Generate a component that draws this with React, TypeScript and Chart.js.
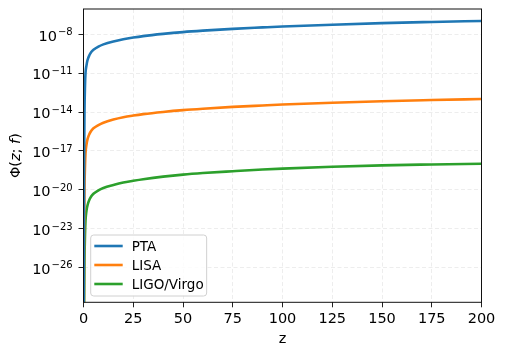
import React, { useEffect, useRef } from "react";
import { Chart, registerables } from "chart.js";

Chart.register(...registerables);

// Redshift samples
const zValues = [0.02, 0.1, 0.3, 0.5, 0.75, 1, 1.5, 2, 3, 4, 5, 7.5, 10, 15, 20, 25, 30, 40, 50, 60, 75, 90, 100, 125, 150, 175, 200];

// log10 of Φ(z; f)
const ptaLog10 = [-45, -30, -18, -14, -12, -11, -10.4, -10.0, -9.6, -9.35, -9.2, -8.95, -8.78, -8.55, -8.38, -8.25, -8.14, -7.97, -7.83, -7.72, -7.58, -7.47, -7.40, -7.26, -7.14, -7.05, -6.97];
const lisaLog10 = [-50, -36, -24, -20, -18.2, -17.2, -16.5, -16.1, -15.68, -15.42, -15.25, -15.0, -14.82, -14.58, -14.4, -14.27, -14.16, -13.99, -13.85, -13.74, -13.6, -13.49, -13.42, -13.28, -13.16, -13.07, -12.99];
const ligoLog10 = [-55, -40, -29, -25.5, -23.5, -22.4, -21.6, -21.2, -20.75, -20.48, -20.3, -20.03, -19.85, -19.62, -19.43, -19.3, -19.18, -18.98, -18.82, -18.7, -18.56, -18.43, -18.36, -18.22, -18.11, -18.04, -17.98];

const seriesLabels = ["PTA", "LISA", "LIGO/Virgo"];
const seriesColors = ["#1f77b4", "#ff7f0e", "#2ca02c"];

const xTicks = [0, 25, 50, 75, 100, 125, 150, 175, 200];
const yTickExponents = [-26, -23, -20, -17, -14, -11, -8];
const yMinExp = -28.67;
const yMaxExp = -6.05;

const FONT = "'DejaVu Sans', sans-serif";

// y-axis title pieces: [text, italic]
const yTitleParts: [string, boolean][] = [["\u03A6(", false], ["z", true], ["; ", false], ["f", true], [")", false]];

const framePlugin = {
  id: "frame",
  afterDraw(chart: any) {
    const { ctx, chartArea: a } = chart;
    ctx.save();
    ctx.strokeStyle = "#111";
    ctx.lineWidth = 1;
    ctx.strokeRect(a.left, a.top, a.right - a.left, a.bottom - a.top);

    // y tick labels as 10^{exp}
    const ys = chart.scales.y;
    ctx.fillStyle = "#000";
    ctx.textBaseline = "alphabetic";
    ctx.textAlign = "left";
    const rightEdge = 72.7;
    yTickExponents.forEach((e) => {
      const py = ys.getPixelForValue(Math.pow(10, e));
      const expText = "\u2212" + String(Math.abs(e));
      ctx.font = `10px ${FONT}`;
      const ew = ctx.measureText(expText).width;
      ctx.font = `14.5px ${FONT}`;
      const bw = ctx.measureText("10").width;
      const x0 = rightEdge - ew - bw - 1;
      ctx.fillText("10", x0, py + 6.3);
      ctx.font = `10px ${FONT}`;
      ctx.fillText(expText, x0 + bw + 1, py + 0.8);
    });

    // y-axis title with italic math variables
    const fontFor = (it: boolean) => `${it ? "italic " : ""}14.5px ${FONT}`;
    let total = 0;
    yTitleParts.forEach(([t, it]) => { ctx.font = fontFor(it); total += ctx.measureText(t).width; });
    ctx.translate(16.5, (a.top + a.bottom) / 2);
    ctx.rotate(-Math.PI / 2);
    ctx.textBaseline = "middle";
    let cx = -total / 2;
    yTitleParts.forEach(([t, it]) => {
      ctx.font = fontFor(it);
      ctx.fillText(t, cx, 0);
      cx += ctx.measureText(t).width;
    });
    ctx.restore();
  },
};

const legendPlugin = {
  id: "insideLegend",
  afterDatasetsDraw(chart: any) {
    const { ctx, chartArea: a } = chart;
    ctx.save();
    ctx.font = `13.5px ${FONT}`;
    const labels = chart.data.datasets.map((d: any) => d.label);
    const maxW = Math.max(...labels.map((l: string) => ctx.measureText(l).width));
    const boxL = a.left + 7.2;
    const boxT = a.bottom - 67.3;
    const boxH = 61;
    const textX = boxL + 41;
    const boxW = textX - boxL + maxW + 3;
    const r = 3;
    ctx.beginPath();
    ctx.moveTo(boxL + r, boxT);
    ctx.arcTo(boxL + boxW, boxT, boxL + boxW, boxT + boxH, r);
    ctx.arcTo(boxL + boxW, boxT + boxH, boxL, boxT + boxH, r);
    ctx.arcTo(boxL, boxT + boxH, boxL, boxT, r);
    ctx.arcTo(boxL, boxT, boxL + boxW, boxT, r);
    ctx.closePath();
    ctx.fillStyle = "rgba(255,255,255,0.8)";
    ctx.fill();
    ctx.strokeStyle = "#d0d0d0";
    ctx.lineWidth = 1;
    ctx.stroke();
    chart.data.datasets.forEach((d: any, i: number) => {
      const y = boxT + 11 + i * 19;
      ctx.strokeStyle = d.borderColor;
      ctx.lineWidth = 2.6;
      ctx.beginPath();
      ctx.moveTo(boxL + 3.6, y);
      ctx.lineTo(boxL + 32, y);
      ctx.stroke();
      ctx.fillStyle = "#000";
      ctx.textBaseline = "middle";
      ctx.textAlign = "left";
      ctx.fillText(d.label, textX, y + 1);
    });
    ctx.restore();
  },
};

const gridOpts = {
  color: "rgba(0,0,0,0.09)",
  lineWidth: 0.8,
  tickLength: 5,
  tickColor: "#222",
  tickWidth: 1,
  tickBorderDash: [],
};

export default function App() {
  const ref = useRef<HTMLCanvasElement | null>(null);

  useEffect(() => {
    if (!ref.current) return;
    const all = [ptaLog10, lisaLog10, ligoLog10];
    const chart = new Chart(ref.current, {
      type: "line",
      data: {
        datasets: all.map((vals, i) => ({
          label: seriesLabels[i],
          data: zValues.map((z, j) => ({ x: z, y: Math.pow(10, vals[j]) })),
          borderColor: seriesColors[i],
          backgroundColor: seriesColors[i],
          borderWidth: 2.6,
          pointRadius: 0,
          cubicInterpolationMode: "monotone" as const,
        })),
      },
      options: {
        responsive: false,
        animation: false,
        layout: { padding: { top: 9, right: 24.5, left: 0, bottom: 0 } },
        plugins: { legend: { display: false }, tooltip: { enabled: false } },
        scales: {
          x: {
            type: "linear",
            min: 0,
            max: 200,
            afterBuildTicks: (s: any) => { s.ticks = xTicks.map((v) => ({ value: v })); },
            afterFit: (s: any) => { s.height = 54.7; },
            ticks: { color: "#000", font: { size: 14.5, family: FONT }, padding: 3, maxRotation: 0 },
            grid: gridOpts,
            border: { display: false, dash: [4, 2.5] },
            title: { display: true, text: "z", color: "#000", font: { size: 14.5, family: FONT }, padding: { top: 0, bottom: 9 } },
          },
          y: {
            type: "logarithmic",
            min: Math.pow(10, yMinExp),
            max: Math.pow(10, yMaxExp),
            afterBuildTicks: (s: any) => { s.ticks = yTickExponents.map((e) => ({ value: Math.pow(10, e) })); },
            afterFit: (s: any) => { s.width = 83.5; },
            ticks: { display: false },
            grid: gridOpts,
            border: { display: false, dash: [4, 2.5] },
            title: { display: false },
          },
        },
      },
      plugins: [legendPlugin, framePlugin],
    });
    return () => chart.destroy();
  }, []);

  return (
    <div style={{ position: "absolute", left: 0, top: 0, width: 506, height: 357, background: "#fff" }}>
      <canvas ref={ref} width={506} height={357} style={{ width: 506, height: 357 }} />
    </div>
  );
}
